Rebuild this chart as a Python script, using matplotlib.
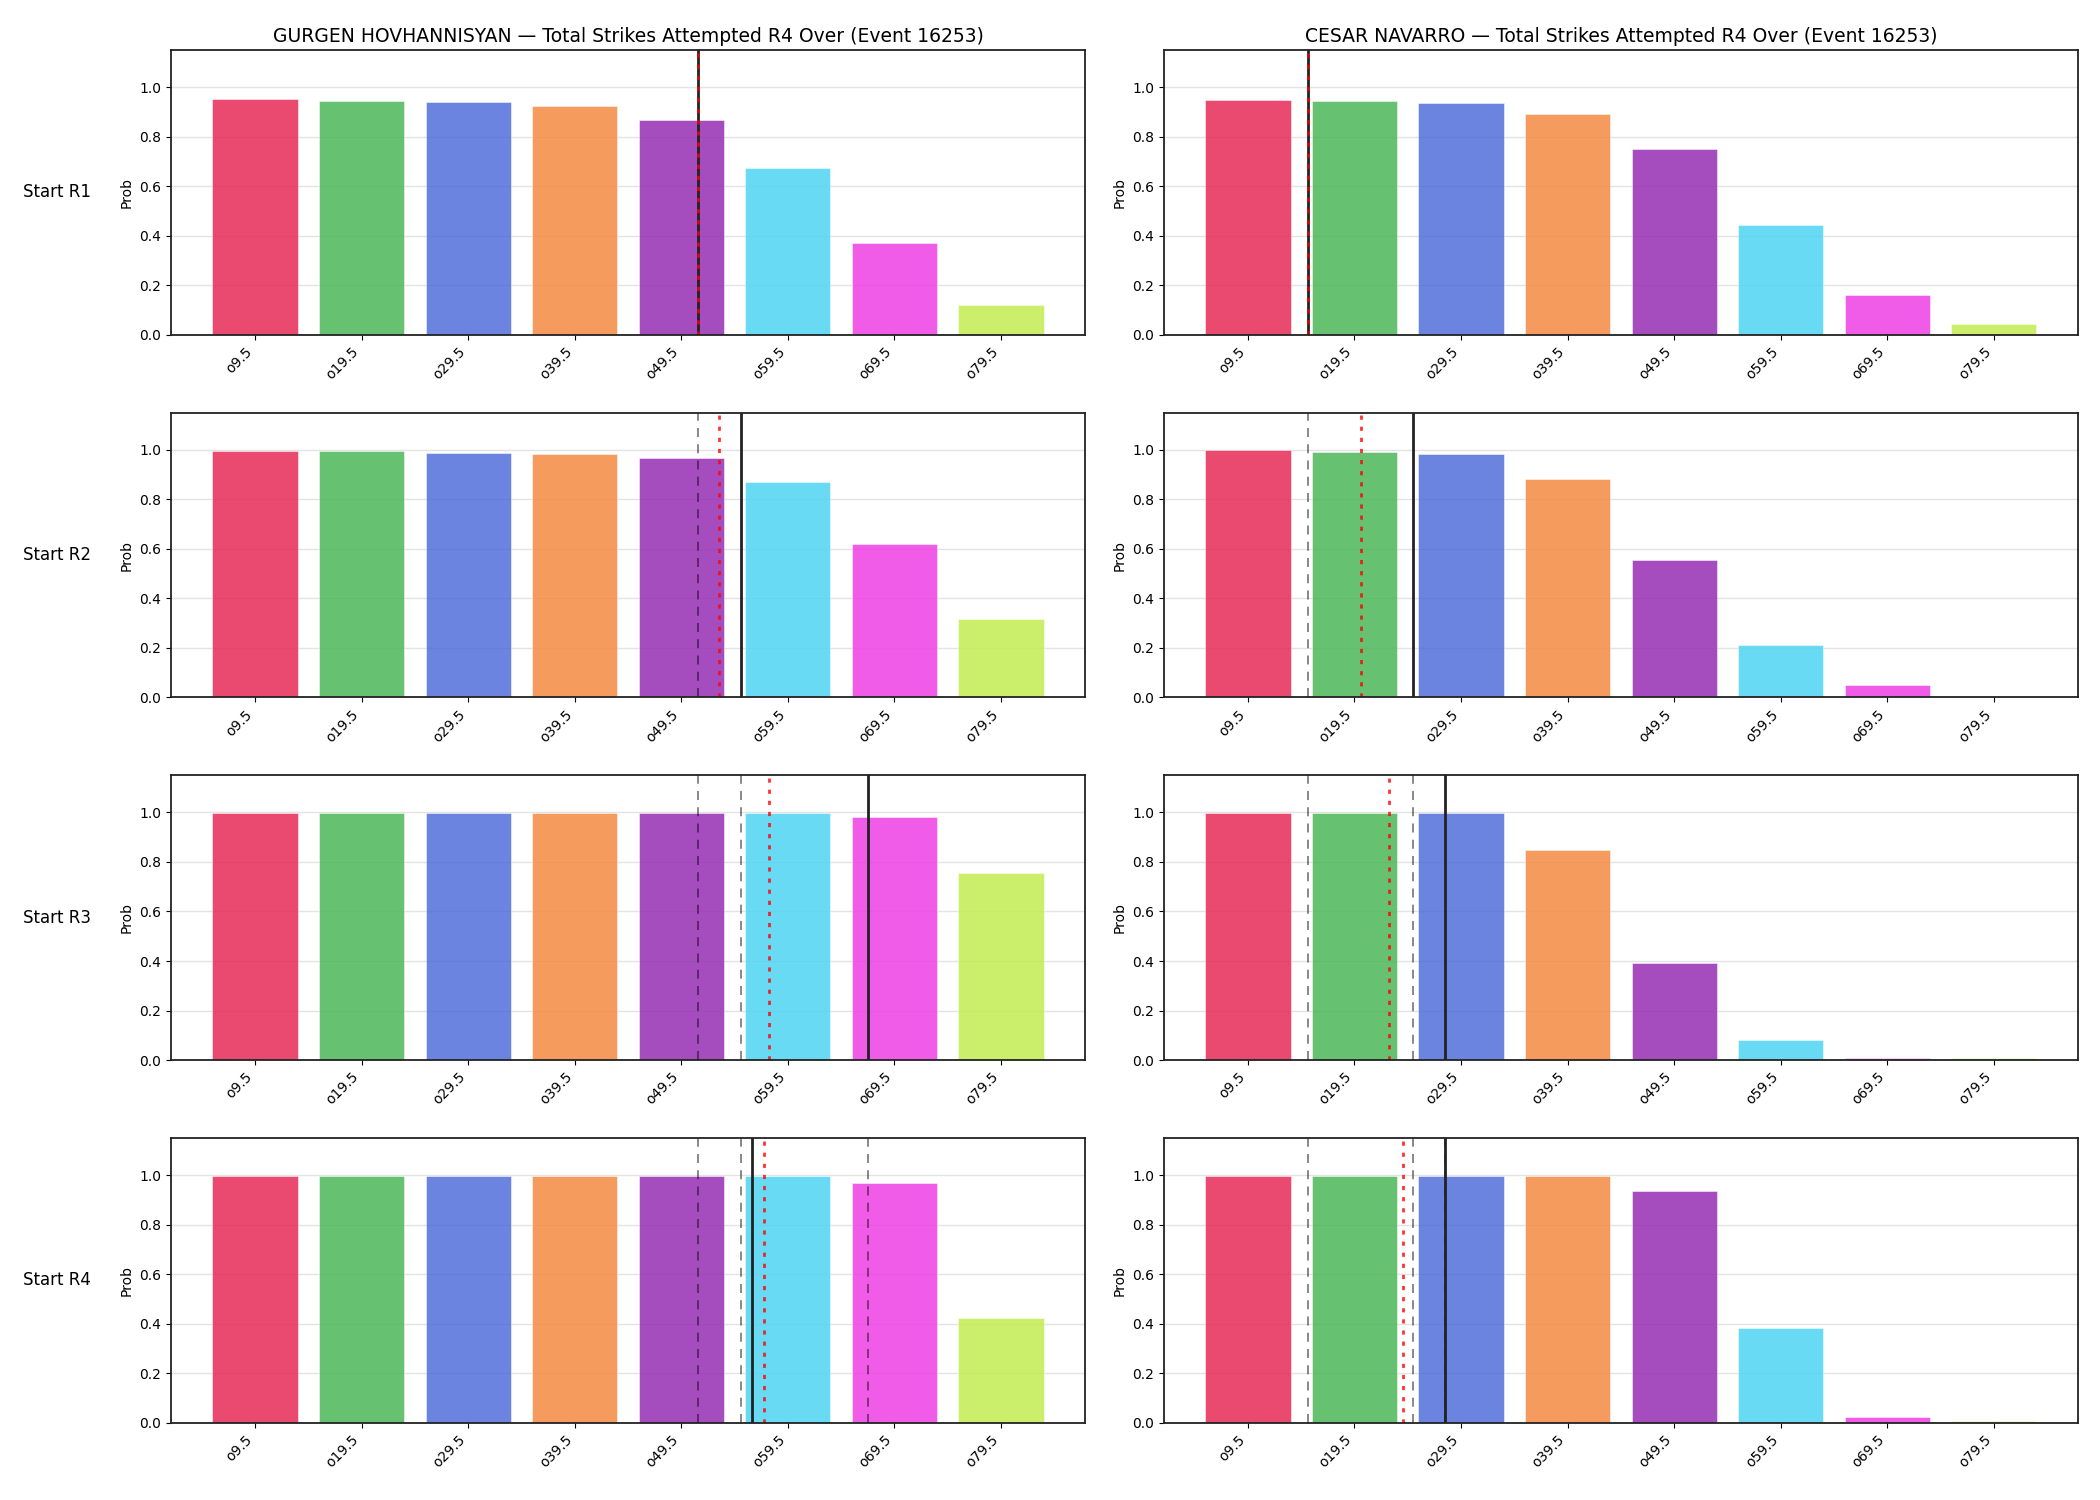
import numpy as np
import matplotlib
matplotlib.use("Agg")
import matplotlib.pyplot as plt

lineas = ["o9.5", "o19.5", "o29.5", "o39.5", "o49.5", "o59.5", "o69.5", "o79.5"]
valores_linea = [9.5, 19.5, 29.5, 39.5, 49.5, 59.5, 69.5, 79.5]
rondas = ["Start R1", "Start R2", "Start R3", "Start R4"]
event_id = 16253

luchador_1 = "GURGEN HOVHANNISYAN"
prob_1 = [
    [0.952, 0.944, 0.940, 0.923, 0.867, 0.674, 0.369, 0.122],
    [0.996, 0.996, 0.988, 0.984, 0.968, 0.871, 0.620, 0.317],
    [0.997, 0.997, 0.997, 0.997, 0.997, 0.997, 0.981, 0.756],
    [0.997, 0.997, 0.997, 0.997, 0.997, 0.997, 0.969, 0.423],
]
proyeccion_1 = [51.1, 55.1, 67.0, 56.1]   # linea negra
actual_1 = [51.1, 53.0, 57.7, 57.3]       # linea roja punteada

luchador_2 = "CESAR NAVARRO"
prob_2 = [
    [0.948, 0.944, 0.937, 0.891, 0.750, 0.444, 0.162, 0.042],
    [0.997, 0.989, 0.981, 0.883, 0.553, 0.212, 0.050, 0.007],
    [0.997, 0.997, 0.997, 0.848, 0.393, 0.083, 0.007, 0.007],
    [0.997, 0.997, 0.997, 0.997, 0.937, 0.383, 0.023, 0.007],
]
proyeccion_2 = [15.1, 25.0, 28.0, 28.0]
actual_2 = [15.1, 20.1, 22.7, 24.1]

colores = ["#E72A57", "#4BB757", "#506EDA", "#F48A42",
           "#962EB4", "#4FD4F2", "#EE3FE4", "#C2EC51"]

fig, axes = plt.subplots(4, 2, figsize=(21, 15), dpi=100)
fig.subplots_adjust(left=0.0814, right=0.9895, top=0.9667, bottom=0.0515,
                    hspace=0.273, wspace=0.086)

x = np.arange(len(lineas))


def a_posicion(v):
    return np.interp(v, valores_linea, x)


datos = [(luchador_1, prob_1, proyeccion_1, actual_1),
         (luchador_2, prob_2, proyeccion_2, actual_2)]

for col, (nombre, probs, proy, act) in enumerate(datos):
    for fila in range(4):
        ax = axes[fila, col]
        ax.set_axisbelow(True)
        ax.grid(axis="y", color="#dddddd", linewidth=1, alpha=0.8)
        ax.bar(x, probs[fila], width=0.8, color=colores, alpha=0.85,
               edgecolor="white", linewidth=0.4)
        # lineas de rondas anteriores
        for prev in range(fila):
            ax.axvline(a_posicion(proy[prev]), color="black", alpha=0.5,
                       linestyle=(0, (5, 4)), linewidth=1.3)
        ax.axvline(a_posicion(proy[fila]), color="#222222", linewidth=2)
        ax.axvline(a_posicion(act[fila]), color="red", alpha=0.8,
                   linestyle=(0, (1.5, 2.5)), linewidth=2)
        ax.set_ylim(0, 1.15)
        ax.set_yticks([0, 0.2, 0.4, 0.6, 0.8, 1.0])
        ax.set_xticks(x)
        ax.set_xticklabels(lineas, rotation=45, ha="right", fontsize=10)
        ax.tick_params(axis="y", labelsize=10)
        ax.set_ylabel("Prob", fontsize=10)
        for s in ax.spines.values():
            s.set_linewidth(1.3)
            s.set_color("#222222")
        if fila == 0:
            ax.set_title(f"{nombre} — Total Strikes Attempted R4 Over (Event {event_id})",
                         fontsize=13.5)
        if col == 0:
            pos = ax.get_position()
            fig.text(0.011, (pos.y0 + pos.y1) / 2, rondas[fila], fontsize=12,
                     ha="left", va="center")

fig.savefig("out.png", dpi=100)
